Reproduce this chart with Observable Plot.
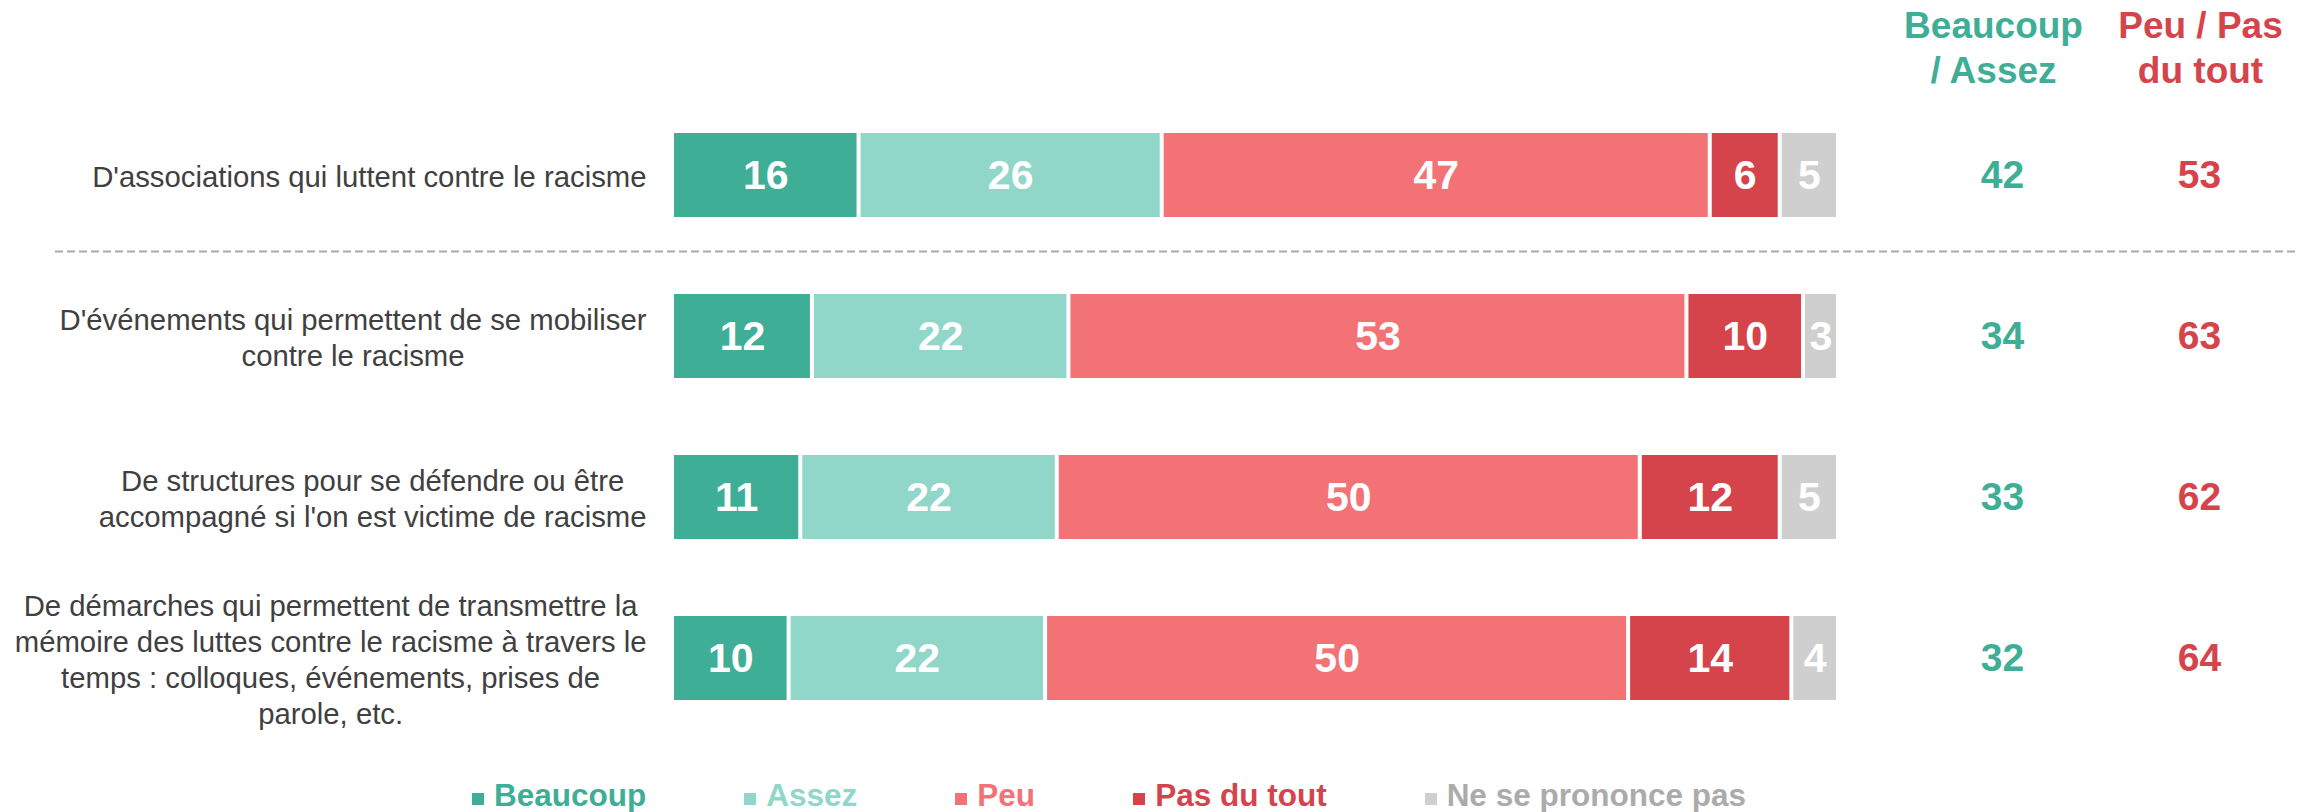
<!DOCTYPE html>
<html><head><meta charset="utf-8">
<script src="https://cdn.jsdelivr.net/npm/d3@7"></script>
<script src="https://cdn.jsdelivr.net/npm/@observablehq/plot@0.6"></script>
<style>
body{margin:0;background:#fff;font-family:"Liberation Sans",Arial,sans-serif;}
#chart svg{display:block;}
#legend{display:flex;align-items:center;padding-left:472px;height:60px;}
.item{display:flex;align-items:center;margin-right:98px;font-weight:bold;font-size:31.5px;line-height:1;}
.sw{width:12px;height:12px;margin-right:10px;margin-top:6px;}
</style></head><body><div id="chart"></div><div id="legend"></div>
<script>
const categories = [
  "D'associations qui luttent contre le racisme",
  "D'événements qui permettent de se mobiliser\ncontre le racisme",
  "De structures pour se défendre ou être\naccompagné si l'on est victime de racisme",
  "De démarches qui permettent de transmettre la\nmémoire des luttes contre le racisme à travers le\ntemps : colloques, événements, prises de\nparole, etc."
];
const series = ["Beaucoup", "Assez", "Peu", "Pas du tout", "Ne se prononce pas"];
const beaucoup  = [16, 12, 11, 10];
const assez     = [26, 22, 22, 22];
const peu       = [47, 53, 50, 50];
const pasDuTout = [6, 10, 12, 14];
const nsp       = [5, 3, 5, 4];
const totalBeaucoupAssez = [42, 34, 33, 32];
const totalPeuPas        = [53, 63, 62, 64];
const headerLeft  = "Beaucoup\n/ Assez";
const headerRight = "Peu / Pas\ndu tout";
const barColors   = ["#3FAE96", "#90D7C9", "#F27276", "#D6444B", "#D0CFD0"];
const legendText  = ["#3FAE96", "#90D7C9", "#F27276", "#D6444B", "#ABABAB"];
const teal = "#3FAE96", red = "#D6444B";

const valuesBySeries = [beaucoup, assez, peu, pasDuTout, nsp];
const rows = [];
categories.forEach((c, i) => series.forEach((s, j) => rows.push({cat: c, series: s, value: valuesBySeries[j][i]})));
const totals = categories.map((c, i) => ({cat: c, ba: totalBeaucoupAssez[i], pp: totalPeuPas[i]}));

const FONT = "'Liberation Sans', Arial, sans-serif";
const labelSize = 29.3;
const ctx = document.createElement("canvas").getContext("2d");
ctx.font = `${labelSize}px 'Liberation Sans'`;
const blockW = c => Math.max(...c.split("\n").map(l => ctx.measureText(l).width));

const labelMarks = categories.map(c => Plot.text([c], {
  x: () => 0, y: d => d, text: d => d, textAnchor: "middle", lineAnchor: "middle",
  dx: -(26 + blockW(c) / 2), fontSize: labelSize, lineHeight: 1.23, fill: "#404040"
}));

const chart = Plot.plot({
  width: 2313, height: 766,
  marginLeft: 55, marginRight: 16, marginTop: 0, marginBottom: 0,
  style: {fontFamily: FONT, background: "#fff"},
  x: {domain: [0, 100], range: [672, 1838], axis: null},
  y: {domain: categories, range: [131, 701], paddingInner: 0.48, paddingOuter: 0, axis: null},
  color: {domain: series, range: barColors},
  marks: [
    Plot.ruleY([categories[1]], {y: d => d, dy: -85, stroke: "#AAAAAA", strokeWidth: 2, strokeDasharray: "8,4"}),
    Plot.barX(rows, Plot.stackX({x: "value", y: "cat", fill: "series", insetLeft: 2, insetRight: 2})),
    Plot.text(rows, Plot.stackX({x: "value", y: "cat", z: "series", text: d => String(d.value),
      fill: "white", fontSize: 41, fontWeight: "bold"})),
    ...labelMarks,
    Plot.text(totals, {y: "cat", text: "ba", frameAnchor: "right", textAnchor: "middle", dx: -295, fill: teal, fontSize: 39, fontWeight: "bold"}),
    Plot.text(totals, {y: "cat", text: "pp", frameAnchor: "right", textAnchor: "middle", dx: -98, fill: red, fontSize: 39, fontWeight: "bold"}),
    Plot.text([headerLeft], {text: d => d, frameAnchor: "top-right", textAnchor: "middle", lineAnchor: "top", dx: -304, dy: 5,
      fill: teal, fontSize: 37, fontWeight: "bold", lineHeight: 1.22}),
    Plot.text([headerRight], {text: d => d, frameAnchor: "top-right", textAnchor: "middle", lineAnchor: "top", dx: -97, dy: 5,
      fill: red, fontSize: 37, fontWeight: "bold", lineHeight: 1.22})
  ]
});
document.getElementById("chart").appendChild(chart);

const legend = document.getElementById("legend");
series.forEach((s, i) => {
  const it = document.createElement("div");
  it.className = "item";
  it.style.color = legendText[i];
  const sw = document.createElement("span");
  sw.className = "sw";
  sw.style.background = barColors[i];
  it.appendChild(sw);
  it.appendChild(document.createTextNode(s));
  legend.appendChild(it);
});
</script></body></html>
